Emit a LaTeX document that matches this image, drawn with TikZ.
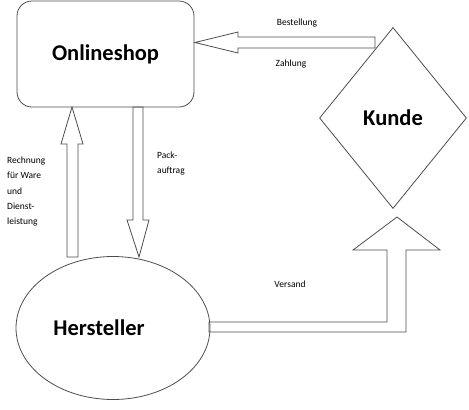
\documentclass[tikz,border=0pt]{standalone}
\usepackage{fontspec}
\setmainfont{Carlito}
\usetikzlibrary{shapes.geometric}

\tikzset{
  umriss/.style={draw=black!70, line width=0.8pt},
  titel/.style={font=\fontsize{22.5}{26}\selectfont\bfseries},
  notiz/.style={font=\fontsize{9.5}{15.2}\selectfont, align=left, inner sep=0pt}
}

\begin{document}
\begin{tikzpicture}[x=1pt, y=-1pt]
  \useasboundingbox (0,0) rectangle (469,410);

  % 1. Knoten
  \node[umriss, rounded corners=15pt, minimum width=177pt, minimum height=106pt,
        inner sep=0pt, titel] (shop) at (105.5,54) {Onlineshop};
  \node[umriss, diamond, minimum width=147pt, minimum height=181pt,
        inner sep=0pt, titel] (kunde) at (393,118) {Kunde};
  \node[umriss, ellipse, minimum width=194pt, minimum height=143pt, inner sep=0pt,
        label={[titel, xshift=-14pt]center:Hersteller}] (hersteller) at (113,328) {};

  % 2. Blockpfeile
  % Kunde -> Onlineshop
  \draw[umriss, line join=miter] (375,37) -- (238,37) -- (238,32) -- (195,42.5)
      -- (238,53) -- (238,48) -- (375,48) -- cycle;
  % Hersteller -> Onlineshop
  \draw[umriss, line join=miter] (67,257) -- (67,144) -- (61,144) -- (72,107)
      -- (83,144) -- (78,144) -- (78,257) -- cycle;
  % Onlineshop -> Hersteller
  \draw[umriss, line join=miter] (133,107) -- (133,220) -- (127,220) -- (139,257)
      -- (149,220) -- (143,220) -- (143,107) -- cycle;
  % Hersteller -> Kunde
  \draw[umriss, line join=miter] (209,322) -- (387,322) -- (387,250) -- (353,250)
      -- (397,217) -- (440,250) -- (406,250) -- (406,332) -- (209,332) -- cycle;

  % 3. Beschriftungen
  \node[notiz] (bestellung) at (297,23) {Bestellung};
  \node[notiz] (zahlung) at (291,64) {Zahlung};
  \node[notiz, anchor=north west] (rechnung) at (7,157)
      {Rechnung\\für Ware\\und\\Dienst-\\leistung};
  \node[notiz, anchor=north west] (pack) at (157,152) {Pack-\\auftrag};
  \node[notiz] (versand) at (290,284) {Versand};
\end{tikzpicture}
\end{document}
